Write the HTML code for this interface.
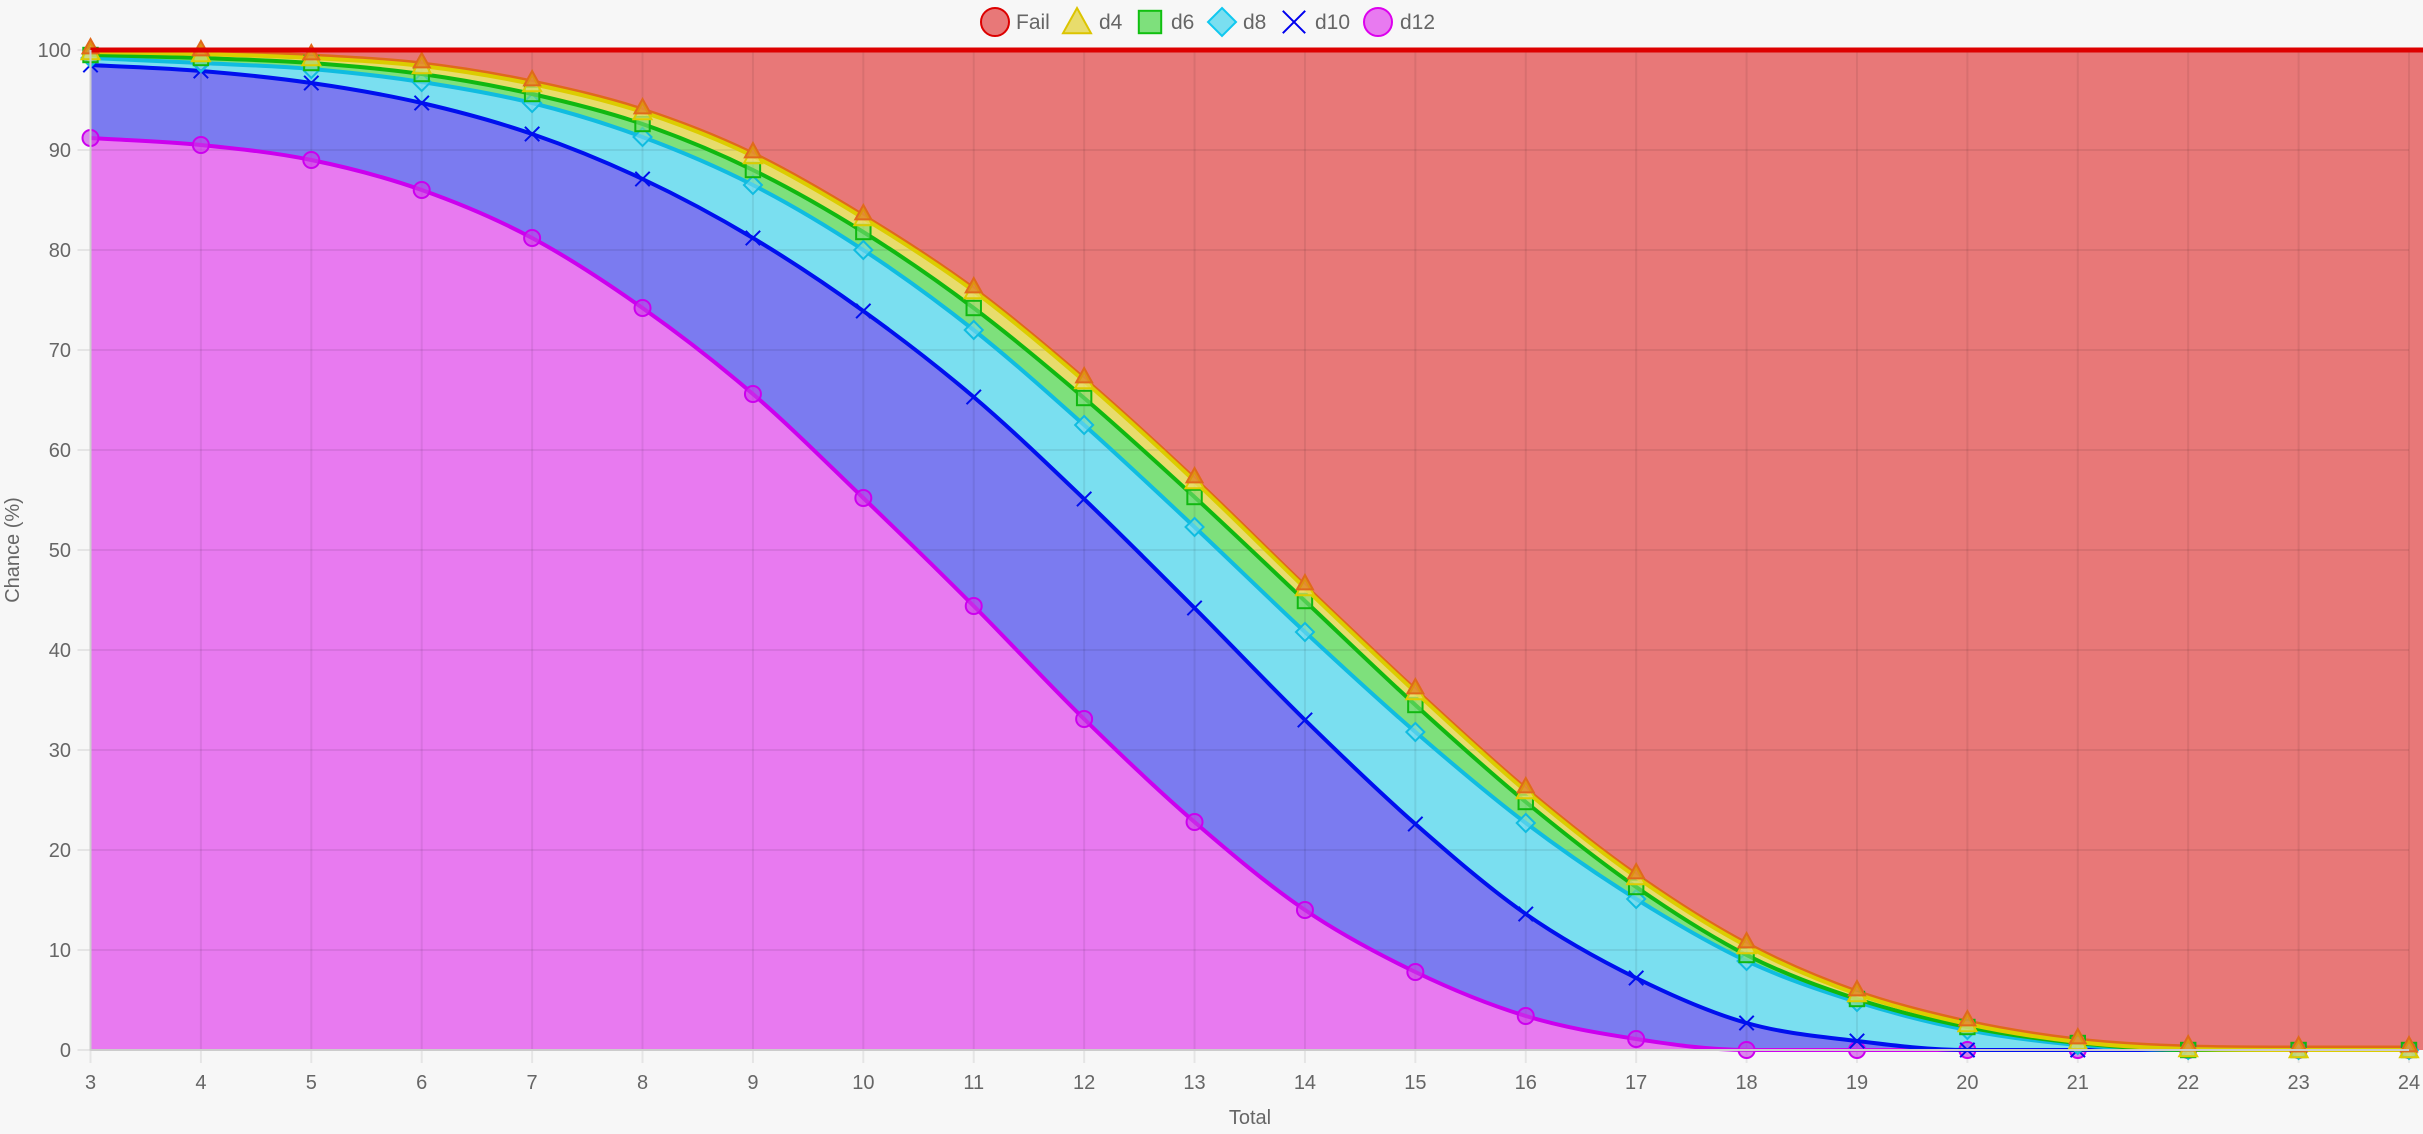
<!DOCTYPE html>
<html><head><meta charset="utf-8">
<style>
html,body{margin:0;padding:0;background:#f7f7f7;}
svg{display:block;font-family:"Liberation Sans",sans-serif;}
</style></head>
<body>
<svg id="chart" width="2423" height="1134" viewBox="0 0 2423 1134" xmlns="http://www.w3.org/2000/svg">
<rect width="2423" height="1134" fill="#f7f7f7"/>
<g id="fills"></g>
<g id="grid"></g>
<g id="lines"></g>
<g id="axes"></g>
<g id="legend"></g>
</svg>
<script>
const categories = [3,4,5,6,7,8,9,10,11,12,13,14,15,16,17,18,19,20,21,22,23,24];
const failValues = [100,100,100,100,100,100,100,100,100,100,100,100,100,100,100,100,100,100,100,100,100,100];
const d4Values = [99.8,99.6,99.2,98.4,96.6,93.8,89.4,83.2,75.9,66.9,56.9,46.2,35.8,25.9,17.3,10.4,5.6,2.6,0.8,0.1,0,0];
const d6Values = [99.5,99.2,98.7,97.6,95.6,92.6,88.0,81.8,74.2,65.2,55.3,44.9,34.5,24.8,16.3,9.5,5.1,2.3,0.7,0,0,0];
const d8Values = [99.2,98.7,98.1,96.8,94.7,91.3,86.5,80.0,72.0,62.5,52.3,41.8,31.8,22.7,15.1,8.9,4.8,2.0,0.5,0,0,0];
const d10Values = [98.5,97.9,96.7,94.7,91.6,87.1,81.2,73.9,65.3,55.1,44.2,33.0,22.6,13.6,7.2,2.7,0.9,0,0,0,0,0];
const d12Values = [91.2,90.5,89.0,86.0,81.2,74.2,65.6,55.2,44.4,33.1,22.8,14.0,7.8,3.4,1.1,0,0,0,0,0,0,0];
const yTicks = [0,10,20,30,40,50,60,70,80,90,100];

const NS="http://www.w3.org/2000/svg";
const L=90.5,R=2409,T=50,B=1050;
const xMin=categories[0], xMax=categories[categories.length-1];
function xs(v){return L+(v-xMin)/(xMax-xMin)*(R-L);}
function ys(v){return B-(v/100)*(B-T);}
function mk(tag,attrs,parent){const e=document.createElementNS(NS,tag);for(const k in attrs)e.setAttribute(k,attrs[k]);parent.appendChild(e);return e;}
const fills=document.getElementById('fills'),grid=document.getElementById('grid'),lines=document.getElementById('lines'),axes=document.getElementById('axes'),legend=document.getElementById('legend');

function ptsArr(vals,dy){return vals.map((v,i)=>[xs(categories[i]),ys(v)+(dy||0)]);}
// monotone cubic segments (Fritsch-Carlson)
function monoPath(P,startCmd){
  const n=P.length;const d=[],m=[];
  for(let i=0;i<n-1;i++)d.push((P[i+1][1]-P[i][1])/(P[i+1][0]-P[i][0]));
  for(let i=0;i<n;i++){
    if(i===0)m.push(d[0]);else if(i===n-1)m.push(d[n-2]);
    else m.push(d[i-1]*d[i]<=0?0:(d[i-1]+d[i])/2);
  }
  for(let i=0;i<n-1;i++){
    if(d[i]===0){m[i]=0;m[i+1]=0;continue;}
    const a=m[i]/d[i],b=m[i+1]/d[i],s=a*a+b*b;
    if(s>9){const t=3/Math.sqrt(s);m[i]=t*a*d[i];m[i+1]=t*b*d[i];}
  }
  let s=startCmd+P[0][0].toFixed(1)+','+P[0][1].toFixed(1);
  for(let i=0;i<n-1;i++){
    const h=(P[i+1][0]-P[i][0])/3;
    s+='C'+(P[i][0]+h).toFixed(1)+','+(P[i][1]+m[i]*h).toFixed(1)+' '+(P[i+1][0]-h).toFixed(1)+','+(P[i+1][1]-m[i+1]*h).toFixed(1)+' '+P[i+1][0].toFixed(1)+','+P[i+1][1].toFixed(1);
  }
  return s;
}
const series=[
 {name:'fail',vals:failValues,fill:'#e87878'},
 {name:'d4',vals:d4Values,fill:'#e8dc6c'},
 {name:'d6',vals:d6Values,fill:'#7ee07c'},
 {name:'d8',vals:d8Values,fill:'#7adff0'},
 {name:'d10',vals:d10Values,fill:'#7b7bf0'},
 {name:'d12',vals:d12Values,fill:'#e87af0'}
];
for(let s=0;s<series.length;s++){
  let d=monoPath(ptsArr(series[s].vals),'M');
  if(s<series.length-1) d+=monoPath(ptsArr(series[s+1].vals).reverse(),'L');
  else d+='L'+xs(xMax)+','+B+'L'+xs(xMin)+','+B;
  d+='Z';
  const p=mk('path',{d:d,fill:series[s].fill},fills);
  
  
}
mk('rect',{x:R,y:ys(100),width:14,height:B-ys(100),fill:'#e87878'},fills);
yTicks.forEach(t=>{
  const g=mk('line',{x1:L-13,x2:R,y1:ys(t),y2:ys(t),stroke:'rgba(0,0,0,0.07)','stroke-width':2},grid);
  
  
  const tx=mk('text',{x:71,y:ys(t)+7,'text-anchor':'end','font-size':20,fill:'#666'},axes);
  tx.textContent=t;
  
  
});
categories.forEach(c=>{
  const g=mk('line',{x1:xs(c),x2:xs(c),y1:T,y2:B+13,stroke:'rgba(0,0,0,0.07)','stroke-width':2},grid);
  
  
  const tx=mk('text',{x:xs(c),y:B+39,'text-anchor':'middle','font-size':20,fill:'#666'},axes);
  tx.textContent=c;
  
  
});
mk('line',{x1:L,x2:L,y1:T,y2:B,stroke:'#ccc','stroke-width':2},axes);
mk('line',{x1:L,x2:R,y1:B,y2:B,stroke:'#ccc','stroke-width':2},axes);
let yt=mk('text',{x:0,y:0,transform:'translate(19,550) rotate(-90)','text-anchor':'middle','font-size':20,fill:'#666'},axes);
yt.textContent='Chance (%)';


let xt=mk('text',{x:1250,y:1124,'text-anchor':'middle','font-size':20,fill:'#666'},axes);
xt.textContent='Total';



function marker(type,x,y,color,fill,r,parent){
  if(type==='circle') return mk('circle',{cx:x,cy:y,r:r,fill:fill,stroke:color,'stroke-width':2},parent);
  if(type==='tri') return mk('polygon',{points:`${x},${y-r} ${x+r},${y+r*0.8} ${x-r},${y+r*0.8}`,fill:fill,stroke:color,'stroke-width':2},parent);
  if(type==='rect') return mk('rect',{x:x-r*0.8,y:y-r*0.8,width:r*1.6,height:r*1.6,fill:fill,stroke:color,'stroke-width':2},parent);
  if(type==='diamond') return mk('polygon',{points:`${x},${y-r} ${x+r},${y} ${x},${y+r} ${x-r},${y}`,fill:fill,stroke:color,'stroke-width':2},parent);
  if(type==='cross') return mk('path',{d:`M${x-r*0.8},${y-r*0.8}L${x+r*0.8},${y+r*0.8}M${x+r*0.8},${y-r*0.8}L${x-r*0.8},${y+r*0.8}`,stroke:color,'stroke-width':2,fill:'none'},parent);
}
const lineDefs=[
 {name:'d12',vals:d12Values,color:'#cc00ee',mk:'circle',mfill:'rgba(200,60,230,0.6)'},
 {name:'d10',vals:d10Values,color:'#0010ee',mk:'cross',mfill:'none'},
 {name:'d8',vals:d8Values,color:'#10bce0',mk:'diamond',mfill:'rgba(120,220,240,0.6)'},
 {name:'d6',vals:d6Values,color:'#10b810',mk:'rect',mfill:'rgba(120,220,120,0.6)'},
 {name:'d4',vals:d4Values,color:'#dccc00',mk:'tri',mfill:'rgba(232,220,108,0.7)'}
];
const oe=mk('path',{d:monoPath(ptsArr(d4Values,-3),'M'),fill:'none',stroke:'#e06a1a','stroke-width':3},lines);


lineDefs.forEach(d=>{
  const pl=mk('path',{d:monoPath(ptsArr(d.vals),'M'),fill:'none',stroke:d.color,'stroke-width':4},lines);
  
  
  d.vals.forEach((v,i)=>{
    const m=marker(d.mk,xs(categories[i]),ys(v),d.color,d.mfill,d.mk==='circle'?8:9,lines);
    
    
  });
});
d4Values.forEach((v,i)=>{
  const m=marker('tri',xs(categories[i]),ys(v)-5,'#e06a1a','rgba(224,106,26,0.6)',8,lines);
  
  
});
const fl=mk('path',{d:monoPath(ptsArr(failValues),'M'),fill:'none',stroke:'#dd0000','stroke-width':5},lines);


mk('line',{x1:R,x2:2423,y1:ys(100),y2:ys(100),stroke:'#dd0000','stroke-width':5},lines);

const legItems=[
 {t:'Fail',type:'circle',cx:995,tx:1016,color:'#dd0000',fill:'#e87878'},
 {t:'d4',type:'tri',cx:1077,tx:1099,color:'#dcc400',fill:'#e8dc6c'},
 {t:'d6',type:'rect',cx:1150,tx:1171,color:'#10c010',fill:'#7ee07c'},
 {t:'d8',type:'diamond',cx:1222,tx:1243,color:'#10c8f0',fill:'#7adff0'},
 {t:'d10',type:'cross',cx:1294,tx:1315,color:'#0000ee',fill:'none'},
 {t:'d12',type:'circle',cx:1378,tx:1400,color:'#dd00ee',fill:'#e87af0'}
];
legItems.forEach(it=>{
  const g=mk('g',{},legend);
  
  
  marker(it.type,it.cx,22,it.color,it.fill,14,g);
  const tx=mk('text',{x:it.tx,y:29,'font-size':21,fill:'#666'},g);
  tx.textContent=it.t;
});
</script>
</body></html>
